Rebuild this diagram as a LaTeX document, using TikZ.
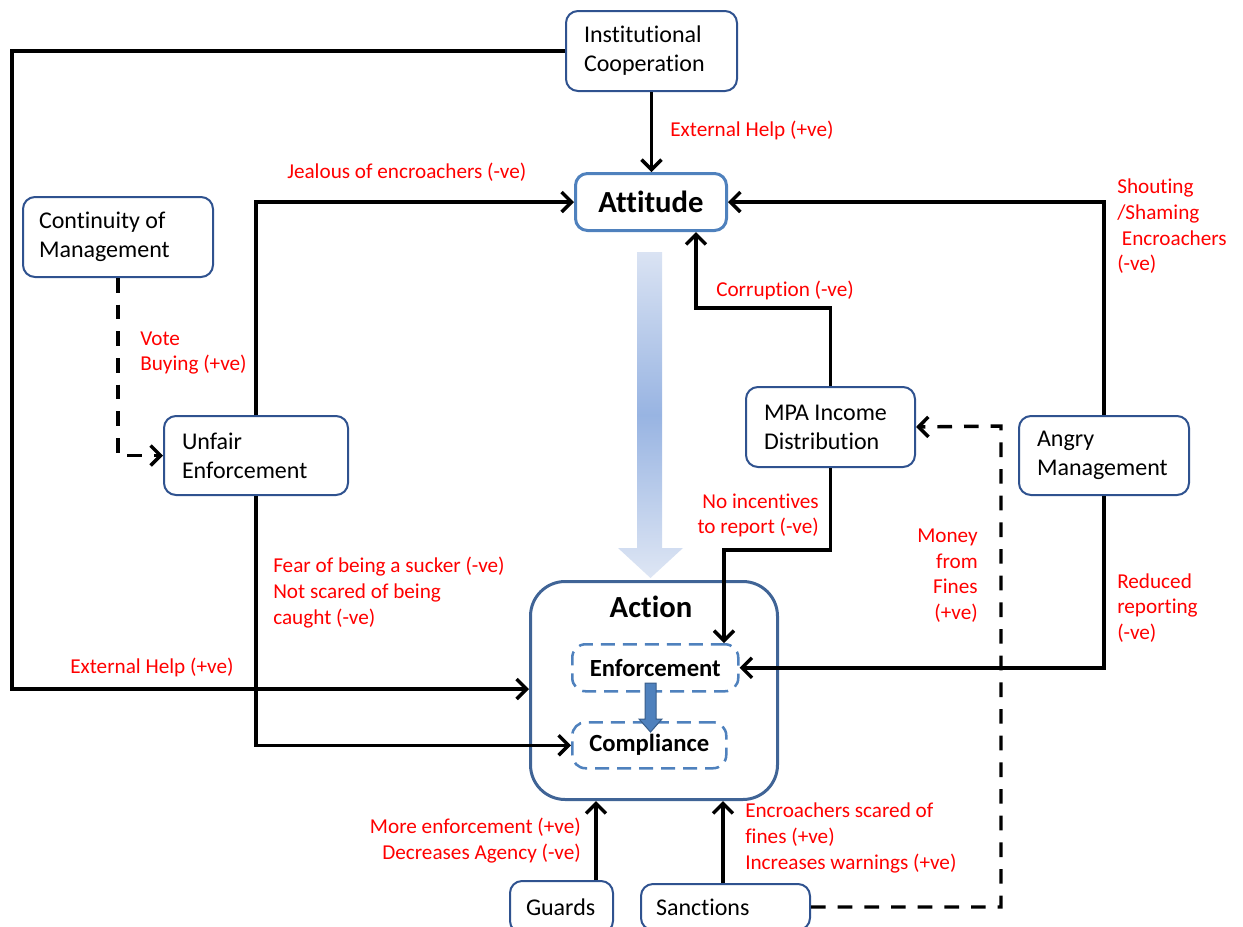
\documentclass[tikz,border=0pt]{standalone}
\usepackage{fontspec}
\setmainfont{Carlito}[Ligatures=NoCommon]
\usetikzlibrary{arrows.meta,calc}
\definecolor{boxblue}{RGB}{47,82,143}
\definecolor{attblue}{RGB}{79,129,189}
\definecolor{actblue}{RGB}{64,100,150}
\definecolor{arrowedge}{RGB}{56,93,138}
\begin{document}
\begin{tikzpicture}[x=0.75pt,y=-0.75pt,
  box/.style={draw=boxblue, line width=1.5pt, rounded corners=9pt, fill=white,
    anchor=north west, align=flush left, inner ysep=0pt,
    font=\fontsize{18pt}{21.75pt}\selectfont},
  conn/.style={line width=2.6pt, -{Straight Barb[length=7.5pt,width=15pt]}},
  dconn/.style={conn, dash pattern=on 11pt off 9pt},
  dbox/.style={draw=attblue, line width=1.9pt, dash pattern=on 10.5pt off 6pt,
    rounded corners=10pt, anchor=north west, inner sep=0pt,
    font=\bfseries\fontsize{18.5pt}{22pt}\selectfont},
  lbl/.style={text=red, inner sep=0pt, font=\fontsize{15.9pt}{19.2pt}\selectfont}
]
\useasboundingbox (0,0) rectangle (1243,926);

% big gradient arrow
\shade[top color={rgb,255:red,218;green,227;blue,243}, bottom color={rgb,255:red,222;green,230;blue,244}, middle color={rgb,255:red,152;green,180;blue,226}]
  (637,252) -- (662,252) -- (662,548) -- (683,548) -- (650.5,578) -- (618,548) -- (637,548) -- cycle;

% boxes
\node[box, inner xsep=13.5pt, text width=101.25pt, minimum height=60pt] (inst) at (565,10) {Institutional\\Cooperation};
\node[box, inner xsep=12pt, text width=118.5pt, minimum height=60pt] (cont) at (22,196) {Continuity of\\Management};
\node[box, inner xsep=13.5pt, text width=111pt, minimum height=59.25pt] (unfair) at (163,415) {Unfair\\Enforcement};
\node[box, inner xsep=13.5pt, text width=99.75pt, minimum height=60pt] (mpa) at (745,386) {MPA Income\\Distribution};
\node[box, inner xsep=13.5pt, text width=100.5pt, minimum height=59.25pt] (angry) at (1018,415) {Angry\\Management};
\node[box, inner xsep=12pt, text width=53.25pt, minimum height=39pt] (guards) at (509,880) {Guards};
\node[box, inner xsep=11.25pt, text width=104.25pt, minimum height=34.5pt] (sanc) at (640,883) {Sanctions};

\node[draw=attblue, line width=2.25pt, rounded corners=9pt, fill=white, anchor=north west,
  minimum width=113.25pt, minimum height=42.75pt, inner sep=0pt,
  font=\bfseries\fontsize{23pt}{27pt}\selectfont] (att) at (574,172) {Attitude};

\node[draw=actblue, line width=2.25pt, rounded corners=26pt, anchor=north west,
  minimum width=185.25pt, minimum height=163.5pt, inner sep=0pt] (action) at (529,580) {};
\node[inner sep=0pt, font=\bfseries\fontsize{23pt}{27pt}\selectfont] (acttitle) at (651,607) {Action};
\node[dbox, minimum width=124.5pt, minimum height=35.25pt] (enf) at (571,643) {Enforcement};
\node[dbox, minimum width=115.5pt, minimum height=34.5pt] (comp) at (571,721) {Compliance};

% block arrow enforcement -> compliance
\filldraw[fill=attblue, draw=arrowedge, line width=0.75pt]
  (645,683) -- (656,683) -- (656,719) -- (662,719) -- (650.5,732) -- (639,719) -- (645,719) -- cycle;

% coordinates
\coordinate (L) at (12,689);
\coordinate (c7) at (696,308);
\coordinate (c8) at (724,550);
\coordinate (c10) at (1001,426);
\coordinate (gx) at (596,850);
\coordinate (sx) at (723,850);

% connectors
\draw[conn] (inst.west) -| (L) -- (L -| action.west);
\draw[conn] (inst.south) -- (inst.south |- att.north);
\draw[conn] (unfair.north) |- (att.west);
\draw[conn] (unfair.south) |- (comp.west);
\draw[dconn] (cont.south) |- (unfair.west);
\draw[conn] (angry.north) |- (att.east);
\draw[conn] (mpa.north) |- (c7) -- (c7 |- att.south);
\draw[conn] (mpa.south) |- (c8) -- (c8 |- enf.north);
\draw[conn] (angry.south) |- (enf.east);
\draw[dconn] (sanc.east) -| (c10) -- (mpa.east);
\draw[conn] (guards.north -| gx) -- (action.south -| gx);
\draw[conn] (sanc.north -| sx) -- (action.south -| sx);

% labels
\node[lbl, anchor=west] (l1) at (670,130) {External Help (+ve)};
\node[lbl, anchor=west] (l2) at (287,172) {Jealous of encroachers (-ve)};
\node[lbl, anchor=west] (l3) at (70,667) {External Help (+ve)};
\node[lbl, anchor=west, align=left] (l4) at (140,353) {Vote\\Buying (+ve)};
\node[lbl, anchor=west] (l5) at (716,290) {Corruption (-ve)};
\node[lbl, anchor=west, align=left] (l6) at (1117,226.5) {Shouting\\/Shaming\\\hspace*{0.22em}Encroachers\\(-ve)};
\node[lbl, anchor=east, align=right] (l7) at (819,515.5) {No incentives\\to report (-ve)};
\node[lbl, anchor=east, align=right] (l8) at (978,575.5) {Money\\from\\Fines\\(+ve)};
\node[lbl, anchor=west, align=left] (l9) at (1117,608) {Reduced\\reporting\\(-ve)};
\node[lbl, anchor=west, align=left] (l10) at (273,592.5) {Fear of being a sucker (-ve)\\Not scared of being\\caught (-ve)};
\node[lbl, anchor=east, align=right] (l11) at (581,840.5) {More enforcement (+ve)\\Decreases Agency (-ve)};
\node[lbl, anchor=west, align=left] (l12) at (745,838) {Encroachers scared of\\fines (+ve)\\Increases warnings (+ve)};
\end{tikzpicture}
\end{document}
